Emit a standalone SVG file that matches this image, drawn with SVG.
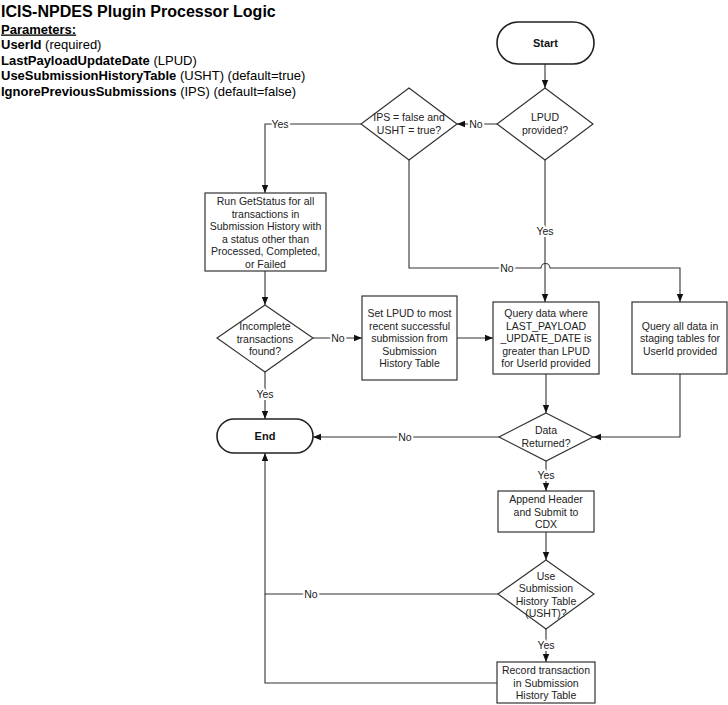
<svg xmlns="http://www.w3.org/2000/svg" width="728" height="705" viewBox="0 0 728 705">
<style>
  .bg{fill:#ffffff}
  .shape{fill:#ffffff;stroke:#333333;stroke-width:1.2}
  .term{fill:#ffffff;stroke:#222222;stroke-width:1.6}
  .t{font-family:"Liberation Sans",Arial,sans-serif;font-size:10.5px;fill:#222222;text-anchor:middle}
  .tb{font-family:"Liberation Sans",Arial,sans-serif;font-size:11px;font-weight:bold;fill:#111111;text-anchor:middle}
  .conn path{fill:none;stroke:#333333;stroke-width:1.1}
  .lbl{font-family:"Liberation Sans",Arial,sans-serif;font-size:10.5px;fill:#222222;text-anchor:middle;paint-order:stroke;stroke:#ffffff;stroke-width:4px;stroke-linejoin:round}
  .hdr{font-family:"Liberation Sans",Arial,sans-serif;fill:#000000}
</style>
<defs>
  <marker id="arr" markerUnits="userSpaceOnUse" markerWidth="8" markerHeight="8" viewBox="0 0 8 8" refX="8" refY="4" orient="auto">
    <path d="M0,0.8 L8,4 L0,7.2 Z" fill="#111111"/>
  </marker>
</defs>
<rect class="bg" x="0" y="0" width="728" height="705"/>

<g id="header">
  <text class="hdr" x="1" y="17" font-size="16" font-weight="bold">ICIS-NPDES Plugin Processor Logic</text>
  <text class="hdr" x="1" y="33.5" font-size="13" font-weight="bold" text-decoration="underline">Parameters:</text>
  <text class="hdr" x="1" y="49" font-size="13"><tspan font-weight="bold">UserId</tspan> (required)</text>
  <text class="hdr" x="1" y="64.5" font-size="13"><tspan font-weight="bold">LastPayloadUpdateDate</tspan> (LPUD)</text>
  <text class="hdr" x="1" y="80" font-size="13"><tspan font-weight="bold">UseSubmissionHistoryTable</tspan> (USHT) (default=true)</text>
  <text class="hdr" x="1" y="95.5" font-size="13"><tspan font-weight="bold">IgnorePreviousSubmissions</tspan> (IPS) (default=false)</text>
</g>

<g class="conn" id="connectors">
  <path d="M545,64 L545,88" marker-end="url(#arr)"/>
  <path d="M497,124 L457,124" marker-end="url(#arr)"/>
  <path d="M361,124 L265,124 L265,193" marker-end="url(#arr)"/>
  <path d="M545,160 L545,302" marker-end="url(#arr)"/>
  <path d="M409,160 L409,268 L541,268 A4.5,4.5 0 0 1 550,268 L680,268 L680,302" marker-end="url(#arr)"/>
  <path d="M265,271 L265,305" marker-end="url(#arr)"/>
  <path d="M313,338 L362,338" marker-end="url(#arr)"/>
  <path d="M457,338 L493,338" marker-end="url(#arr)"/>
  <path d="M546,374 L546,413" marker-end="url(#arr)"/>
  <path d="M680,374 L680,437 L593,437" marker-end="url(#arr)"/>
  <path d="M499,437 L313,437" marker-end="url(#arr)"/>
  <path d="M265,372 L265,419" marker-end="url(#arr)"/>
  <path d="M546,461 L546,491" marker-end="url(#arr)"/>
  <path d="M546,532 L546,560" marker-end="url(#arr)"/>
  <path d="M498,594 L265,594 L265,453" marker-end="url(#arr)"/>
  <path d="M546,629 L546,662" marker-end="url(#arr)"/>
  <path d="M497,683 L265,683 L265,594"/>
  <text class="lbl" x="476" y="128">No</text>
  <text class="lbl" x="280" y="128">Yes</text>
  <text class="lbl" x="545" y="235">Yes</text>
  <text class="lbl" x="507" y="272">No</text>
  <text class="lbl" x="338" y="342">No</text>
  <text class="lbl" x="405" y="441">No</text>
  <text class="lbl" x="265" y="398">Yes</text>
  <text class="lbl" x="546" y="479">Yes</text>
  <text class="lbl" x="311" y="598">No</text>
  <text class="lbl" x="546" y="649">Yes</text>
</g>

<g id="start">
  <rect class="term" x="497" y="22" width="97" height="42" rx="21" ry="21"/>
  <text class="tb" x="545.5" y="47">Start</text>
</g>

<g id="lpud">
  <polygon class="shape" points="545,88 593,124 545,160 497,124"/>
  <text class="t" x="545" y="121">LPUD</text>
  <text class="t" x="545" y="134">provided?</text>
</g>

<g id="ips">
  <polygon class="shape" points="409,88 457,124 409,160 361,124"/>
  <text class="t" x="409" y="121">IPS = false and</text>
  <text class="t" x="409" y="134">USHT = true?</text>
</g>

<g id="getstatus">
  <rect class="shape" x="205" y="193" width="121" height="78"/>
  <text class="t" x="265.5" y="205">Run GetStatus for all</text>
  <text class="t" x="265.5" y="217.5">transactions in</text>
  <text class="t" x="265.5" y="230">Submission History with</text>
  <text class="t" x="265.5" y="242.5">a status other than</text>
  <text class="t" x="265.5" y="255">Processed, Completed,</text>
  <text class="t" x="265.5" y="267.5">or Failed</text>
</g>

<g id="incomplete">
  <polygon class="shape" points="265,305 313,338 265,372 217,338"/>
  <text class="t" x="265" y="330">Incomplete</text>
  <text class="t" x="265" y="342.5">transactions</text>
  <text class="t" x="265" y="355">found?</text>
</g>

<g id="setlpud">
  <rect class="shape" x="362" y="296" width="95" height="84"/>
  <text class="t" x="409.5" y="317">Set LPUD to most</text>
  <text class="t" x="409.5" y="329.5">recent successful</text>
  <text class="t" x="409.5" y="342">submission from</text>
  <text class="t" x="409.5" y="354.5">Submission</text>
  <text class="t" x="409.5" y="367">History Table</text>
</g>

<g id="querydata">
  <rect class="shape" x="493" y="302" width="106" height="72"/>
  <text class="t" x="546" y="317">Query data where</text>
  <text class="t" x="546" y="329.5">LAST_PAYLOAD</text>
  <text class="t" x="546" y="342">_UPDATE_DATE is</text>
  <text class="t" x="546" y="354.5">greater than LPUD</text>
  <text class="t" x="546" y="367">for UserId provided</text>
</g>

<g id="queryall">
  <rect class="shape" x="632" y="302" width="95" height="72"/>
  <text class="t" x="680" y="329.5">Query all data in</text>
  <text class="t" x="680" y="342">staging tables for</text>
  <text class="t" x="680" y="354.5">UserId provided</text>
</g>

<g id="datareturned">
  <polygon class="shape" points="546,413 593,437 546,461 499,437"/>
  <text class="t" x="546" y="434">Data</text>
  <text class="t" x="546" y="446.5">Returned?</text>
</g>

<g id="end">
  <rect class="term" x="217" y="419" width="96" height="34" rx="17" ry="17"/>
  <text class="tb" x="265" y="440">End</text>
</g>

<g id="append">
  <rect class="shape" x="498" y="491" width="96" height="41"/>
  <text class="t" x="546" y="503">Append Header</text>
  <text class="t" x="546" y="515.5">and Submit to</text>
  <text class="t" x="546" y="528">CDX</text>
</g>

<g id="useusht">
  <polygon class="shape" points="546,560 594,594 546,629 498,594"/>
  <text class="t" x="546" y="579.5">Use</text>
  <text class="t" x="546" y="592">Submission</text>
  <text class="t" x="546" y="604.5">History Table</text>
  <text class="t" x="546" y="617">(USHT)?</text>
</g>

<g id="record">
  <rect class="shape" x="497" y="662" width="98" height="41"/>
  <text class="t" x="546" y="674">Record transaction</text>
  <text class="t" x="546" y="686.5">in Submission</text>
  <text class="t" x="546" y="699">History Table</text>
</g>
</svg>
